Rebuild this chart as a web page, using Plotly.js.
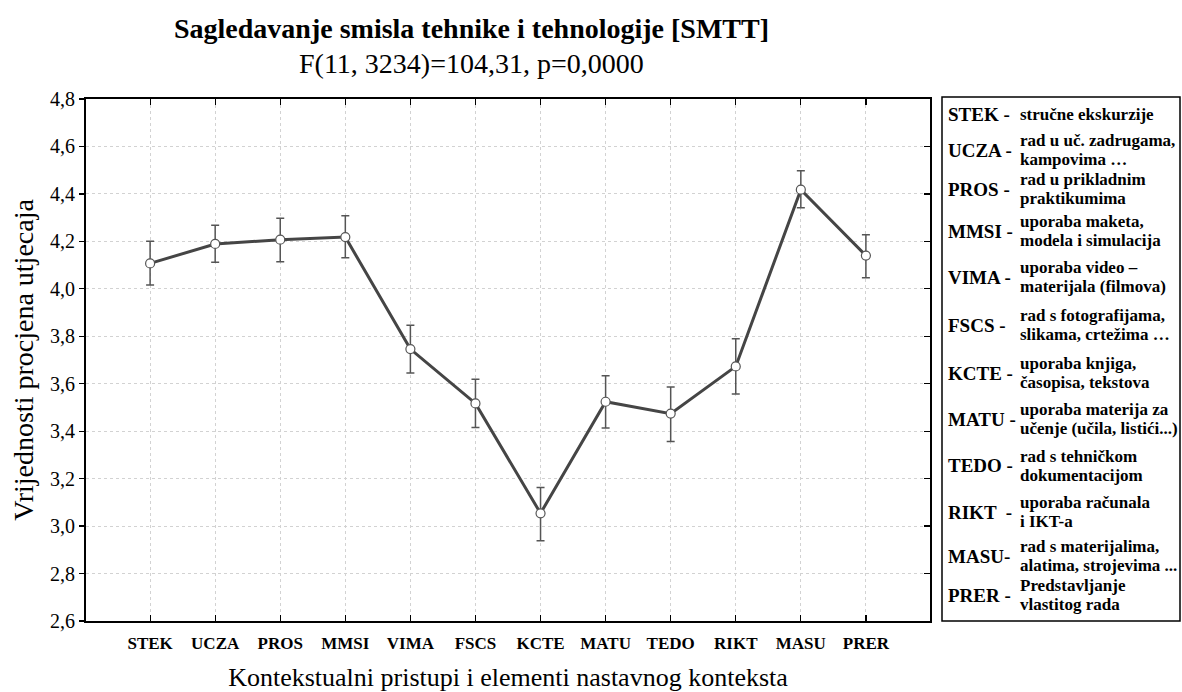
<!DOCTYPE html>
<html>
<head>
<meta charset="utf-8">
<script src="https://cdn.plot.ly/plotly-3.0.1.min.js"></script>
<style>html,body{margin:0;padding:0;background:#fff;}#chart{width:1182px;height:692px;}</style>
</head>
<body>
<div id="chart"></div>
<script>
// ---- data ----
const categories = ["STEK","UCZA","PROS","MMSI","VIMA","FSCS","KCTE","MATU","TEDO","RIKT","MASU","PRER"];
const means = [4.107, 4.189, 4.207, 4.218, 3.746, 3.517, 3.054, 3.524, 3.474, 3.673, 4.418, 4.140];
const errPlus = [0.093, 0.079, 0.090, 0.090, 0.100, 0.102, 0.109, 0.110, 0.112, 0.117, 0.080, 0.088];
const errMinus = [0.091, 0.077, 0.093, 0.087, 0.101, 0.101, 0.116, 0.111, 0.117, 0.116, 0.076, 0.093];
const yTickVals = [2.6, 2.8, 3.0, 3.2, 3.4, 3.6, 3.8, 4.0, 4.2, 4.4, 4.6, 4.8];
const legendCodes = ["STEK -","UCZA -","PROS -","MMSI -","VIMA -","FSCS -","KCTE -","MATU -","TEDO -","RIKT  -","MASU-","PRER -"];
const legendDesc = [
  ["stručne ekskurzije"],
  ["rad u uč. zadrugama,","kampovima …"],
  ["rad u prikladnim","praktikumima"],
  ["uporaba maketa,","modela i simulacija"],
  ["uporaba video –","materijala (filmova)"],
  ["rad s fotografijama,","slikama, crtežima …"],
  ["uporaba knjiga,","časopisa, tekstova"],
  ["uporaba materija za","učenje (učila, listići...)"],
  ["rad s tehničkom","dokumentacijom"],
  ["uporaba računala","i IKT-a"],
  ["rad s materijalima,","alatima, strojevima ..."],
  ["Predstavljanje","vlastitog rada"]
];
const titleText = "Sagledavanje smisla tehnike i tehnologije [SMTT]";
const subtitleText = "F(11, 3234)=104,31, p=0,0000";
const xTitle = "Kontekstualni pristupi i elementi nastavnog konteksta";
const yTitle = "Vrijednosti procjena utjecaja";

// ---- layout helpers (pixel geometry) ----
const W = 1182, H = 692;
const mL = 86, mR = 252, mT = 99, mB = 71;
const pw = W - mL - mR, ph = H - mT - mB;
const px = x => (x - mL) / pw;
const py = y => (H - mB - y) / ph;
const serif = "Liberation Serif";
// vertical centres (px) of the legend rows in the side box
const legendRowY = [114, 150, 189, 231, 277, 325, 373, 419, 466, 512, 556, 595];

const catIdx = categories.map((c, i) => i);

const trace = {
  x: catIdx, y: means, type: "scatter", mode: "lines+markers",
  line: {color: "#454545", width: 3},
  marker: {symbol: "circle", size: 9, color: "#ffffff", line: {color: "#555555", width: 1.2}},
  error_y: {type: "data", symmetric: false, array: errPlus, arrayminus: errMinus,
            color: "#555555", thickness: 1.5, width: 4},
  hoverinfo: "x+y", showlegend: false
};
const ghost = {x: catIdx, y: means, type: "scatter", mode: "none", yaxis: "y2", hoverinfo: "skip", showlegend: false};

const annotations = [];
legendCodes.forEach((code, i) => {
  const cy = legendRowY[i];
  annotations.push({xref: "paper", yref: "paper", x: px(946), y: py(cy), xanchor: "left", yanchor: "middle",
    text: code, showarrow: false, font: {family: serif, size: 19, color: "#000", weight: 700}});
  const lines = legendDesc[i];
  lines.forEach((ln, j) => {
    const off = lines.length === 1 ? 0 : (j === 0 ? -10 : 9.5);
    annotations.push({xref: "paper", yref: "paper", x: px(1018), y: py(cy + off), xanchor: "left", yanchor: "middle",
      text: ln, showarrow: false, font: {family: serif, size: 17, color: "#000", weight: 700}});
  });
});
annotations.push({xref: "paper", yref: "paper", x: px(471), y: py(29), xanchor: "center", yanchor: "middle",
  text: titleText, showarrow: false, font: {family: serif, size: 28, color: "#000", weight: 700}});
annotations.push({xref: "paper", yref: "paper", x: px(471), y: py(63), xanchor: "center", yanchor: "middle",
  text: subtitleText, showarrow: false, font: {family: serif, size: 28, color: "#000"}});

const layout = {
  width: W, height: H,
  margin: {l: mL, r: mR, t: mT, b: mB, pad: 0},
  paper_bgcolor: "#fff", plot_bgcolor: "#fff",
  separators: ", ",
  font: {family: serif, color: "#000"},
  xaxis: {
    range: [-0.985, 11.985], tickmode: "array", tickvals: catIdx, ticktext: categories,
    tickfont: {family: serif, size: 17, color: "#000", weight: 700},
    ticks: "inside", ticklen: 6, tickwidth: 1.2, tickcolor: "#000", ticklabelstandoff: 6,
    showline: true, linecolor: "#000", linewidth: 2, mirror: "ticks",
    showgrid: true, gridcolor: "#d2d2d2", griddash: "dot", gridwidth: 1, zeroline: false,
    title: {text: xTitle, font: {family: serif, size: 26, color: "#000"}, standoff: 18}
  },
  yaxis: {
    range: [2.6, 4.8], tickmode: "array", tickvals: yTickVals, tickformat: ".1f",
    tickfont: {family: serif, size: 20, color: "#000"},
    ticks: "outside", ticklen: 5, tickwidth: 1.2, tickcolor: "#000",
    showline: true, linecolor: "#000", linewidth: 2, mirror: true,
    showgrid: true, gridcolor: "#d2d2d2", griddash: "dot", gridwidth: 1, zeroline: false,
    title: {text: yTitle, font: {family: serif, size: 28, color: "#000"}, standoff: 8}
  },
  yaxis2: {
    overlaying: "y", side: "right", range: [2.6, 4.8], tickmode: "array", tickvals: yTickVals,
    showticklabels: false, ticks: "inside", ticklen: 6, tickwidth: 1.2, tickcolor: "#000",
    showline: false, showgrid: false, zeroline: false
  },
  shapes: [{type: "rect", xref: "paper", yref: "paper", x0: px(942), x1: px(1180), y0: py(621), y1: py(97),
            line: {color: "#000", width: 1.5}, fillcolor: "rgba(0,0,0,0)"}],
  annotations: annotations
};

Plotly.newPlot("chart", [trace, ghost], layout, {displayModeBar: false, staticPlot: true});
</script>
</body>
</html>
